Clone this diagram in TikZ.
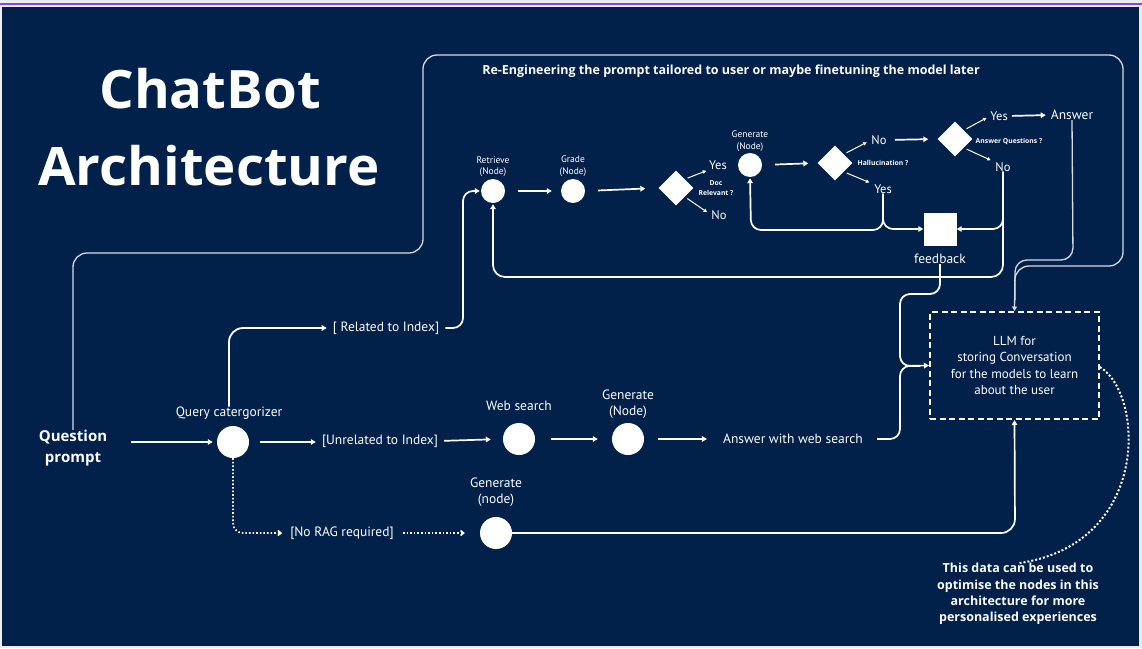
\documentclass[tikz,border=0pt]{standalone}
\usepackage{fontspec}
\setmainfont{Open Sans}
\newfontfamily\bodyf{PT Sans}
\usetikzlibrary{arrows.meta,shapes.geometric}
\definecolor{navy}{RGB}{1,32,74}
\definecolor{pagebg}{RGB}{236,237,241}
\definecolor{topline}{RGB}{130,70,230}
\definecolor{thinc}{RGB}{215,218,228}
\begin{document}
\begin{tikzpicture}[x=1pt,y=-1pt,
  txt/.style={text=white,font=\bodyf\fontsize{13.5}{16.5}\selectfont,inner sep=0pt,align=center},
  lbl/.style={text=white,font=\bodyf\fontsize{9.5}{11.5}\selectfont,inner sep=0pt,align=center},
  tinyb/.style={text=white,font=\bfseries\fontsize{6.8}{9.5}\selectfont,inner sep=0pt,align=center},
  yn/.style={text=white,font=\bodyf\fontsize{12.5}{14}\selectfont,inner sep=0pt},
  boldt/.style={text=white,font=\bfseries\fontsize{12.5}{16.2}\selectfont,inner sep=0pt,align=center},
  titlet/.style={text=white,font=\bfseries\fontsize{53}{60}\selectfont,inner sep=0pt},
  bigc/.style={circle,fill=white,minimum size=32pt,inner sep=0pt},
  smallc/.style={circle,fill=white,minimum size=24pt,inner sep=0pt},
  dia/.style={diamond,fill=white,minimum size=35pt,inner sep=0pt},
  conn/.style={draw=white,line width=1.7pt,-{Triangle[length=5pt,width=5.5pt]}},
  wline/.style={draw=white,line width=1.8pt},
  dconn/.style={draw=white,line width=1.6pt,dotted,-{Straight Barb[length=3pt,width=5pt]}},
  diag/.style={draw=white,line width=1pt,-{Triangle[length=3.5pt,width=3.5pt]}},
  thinl/.style={draw=thinc,line width=1.3pt}
]
% background
\fill[pagebg] (0,0) rectangle (1142,648);
\fill[topline] (0,2.6) rectangle (1142,4.6);
\fill[navy] (2,6.5) rectangle (1139,646);
\useasboundingbox (0,0) rectangle (1142,648);

% title
\node[titlet,anchor=base] (t1) at (210,108) {\scalebox{1.03}[1]{ChatBot}};
\node[titlet,anchor=base] (t2) at (209,185) {\scalebox{1.03}[1]{Architecture}};

\node[boldt] (reeng) at (731,71) {Re-Engineering the prompt tailored to user or maybe finetuning the model later};

% left part
\node[text=white,font=\bfseries\fontsize{15}{21}\selectfont,inner sep=0pt,align=center] (qp) at (73,448) {Question\\prompt};
\node[bigc] (qc) at (233,442) {};
\node[txt] (qcl) at (229,413) {Query catergorizer};
\node[txt] (rel) at (386,328) {[ Related to Index]};
\node[txt] (unrel) at (380,441) {[Unrelated to Index]};
\node[txt] (norag) at (342,533) {[No RAG required]};

% web row
\node[bigc] (ws) at (519,439) {};
\node[txt] (wsl) at (519,406) {Web search};
\node[bigc] (gen2) at (628,439) {};
\node[txt] (gen2l) at (628,404) {Generate\\(Node)};
\node[txt] (aws) at (793,439) {Answer with web search};

% no rag row
\node[bigc] (gen3) at (496,533) {};
\node[txt] (gen3l) at (496,492) {Generate\\(node)};

% RAG top flow
\node[smallc] (ret) at (493,191) {};
\node[lbl] (retl) at (493,166.5) {Retrieve\\(Node)};
\node[smallc] (grade) at (573,191) {};
\node[lbl] (gradel) at (573,166) {Grade\\(Node)};
\node[dia] (d1) at (676,188) {};
\node[yn] (yes1) at (718,165) {Yes};
\node[yn] (no1) at (719,215) {No};
\node[tinyb] (docl) at (716,188) {Doc\\Relevant ?};

\node[smallc] (gen1) at (750,165) {};
\node[lbl] (gen1l) at (750,141) {Generate\\(Node)};
\node[dia] (d2) at (835,163) {};
\node[tinyb] (halll) at (883,163) {Hallucination ?};
\node[yn] (no2) at (879,140) {No};
\node[yn] (yes2) at (883,189) {Yes};
\node[dia] (d3) at (955,139) {};
\node[tinyb] (aql) at (1009,141) {Answer Questions ?};
\node[yn] (yes3) at (999,116) {Yes};
\node[txt] (ans) at (1072,115) {Answer};
\node[yn] (no3) at (1003,167) {No};

\node[rectangle,fill=white,minimum size=33pt,inner sep=0pt] (fb) at (940,229) {};
\node[txt] (fbl) at (940,259) {feedback};

% LLM box
\node[draw=white,line width=2pt,dash pattern=on 6pt off 3.5pt,minimum width=169pt,minimum height=107pt,inner sep=0pt,
      text=white,font=\bodyf\fontsize{13}{16.5}\selectfont,align=center] (llm) at (1014.5,365.5)
      {LLM for\\storing Conversation\\for the models to learn\\about the user};

\node[text=white,font=\bfseries\fontsize{12.5}{16.2}\selectfont,inner sep=0pt,align=center] (note) at (1018,594)
  {This data can be used to\\optimise the nodes in this\\architecture for more\\personalised experiences};

% ---- connectors ----
% big loop
\draw[thinl,rounded corners=14pt,-{Triangle[length=4.5pt,width=5pt]}] (qp.north) -- (73,253) -- (423,253) -- (423,55) -- (1123,55) -- (1123,266) -- (1015,266) -- (llm.north);
\draw[thinl,rounded corners=12pt] (ans.south) -- (1073,260) -- (1015,260) -- (1015,300);

% left flows
\draw[conn,shorten <=24pt,shorten >=4pt] (qp.east |- qc.west) -- (qc.west);
\draw[conn,shorten <=11pt,shorten >=6pt] (qc.east) -- (unrel.west |- qc.east);
\draw[wline,rounded corners=14pt,-{Triangle[length=5pt,width=5.5pt]},shorten >=6pt] (qcl.north) |- (rel.west);
\draw[conn,rounded corners=10pt,shorten <=6pt,shorten >=1pt] (rel.east) -- (463,328) -- (463,191) -- (ret.west);
\draw[dconn,rounded corners=10pt,shorten >=8pt] (qc.south) -- (233,533) -- (norag.west);
\draw[dconn,shorten <=9pt,shorten >=15pt] (norag.east) -- (gen3.west);

% web row
\draw[conn,shorten <=6pt,shorten >=12pt] (unrel.east) -- (ws.west);
\draw[conn,shorten <=16pt,shorten >=14pt] (ws.east) -- (gen2.west);
\draw[conn,shorten <=14pt,shorten >=16pt] (gen2.east) -- (aws.west);

% gen3 to llm
\draw[conn,rounded corners=14pt] (gen3.east) -- (1015,533) -- (llm.south);

% brace into llm
\draw[wline,rounded corners=10pt] (fbl.south) -- (940,294) -- (900,294) -- (900,366) -- (920,366);
\draw[conn,rounded corners=10pt,shorten <=14pt] (aws.east) -- (900,439) -- (900,366) -- (llm.west);

% top RAG
\draw[conn,shorten <=13pt,shorten >=9pt] (ret.east) -- (grade.west);
\draw[conn,shorten <=13pt,shorten >=13pt] (grade.east) -- (d1.west);
\draw[diag,shorten <=3pt,shorten >=3pt] (d1.north east) -- (yes1.south west);
\draw[diag,shorten <=3pt,shorten >=5pt] (d1.south east) -- (no1.west);
\draw[conn,shorten <=13pt,shorten >=9pt] (gen1.east) -- (d2.west);
\draw[diag,shorten <=3pt,shorten >=5pt] (d2.north east) -- (no2.west);
\draw[diag,shorten <=3pt,shorten >=5pt] (d2.south east) -- (yes2.north west);
\draw[conn,shorten <=8pt,shorten >=9pt] (no2.east) -- (d3.west);
\draw[diag,shorten <=3pt,shorten >=4pt] (d3.north east) -- (yes3.west);
\draw[diag,shorten <=3pt,shorten >=5pt] (d3.south east) -- (no3.north west);
\draw[conn,shorten <=4pt,shorten >=5pt] (yes3.east) -- (ans.west);

% feedback loops
\draw[conn,rounded corners=10pt,shorten >=1pt] (yes2.south) -- (883,230) -- (751,230) -- (gen1.south);
\draw[conn,rounded corners=10pt] (yes2.south) -- (883,229) -- (fb.west);
\draw[conn,rounded corners=10pt] (no3.south) -- (1003,229) -- (fb.east);
\draw[conn,rounded corners=12pt,shorten >=1pt] (no3.south) -- (1003,277) -- (493,277) -- (ret.south);

% dotted note curve
\draw[white,line width=2pt,dotted] (llm.east |- 0,367) .. controls (1145,395) and (1150,545) .. (note.north);
\end{tikzpicture}
\end{document}
